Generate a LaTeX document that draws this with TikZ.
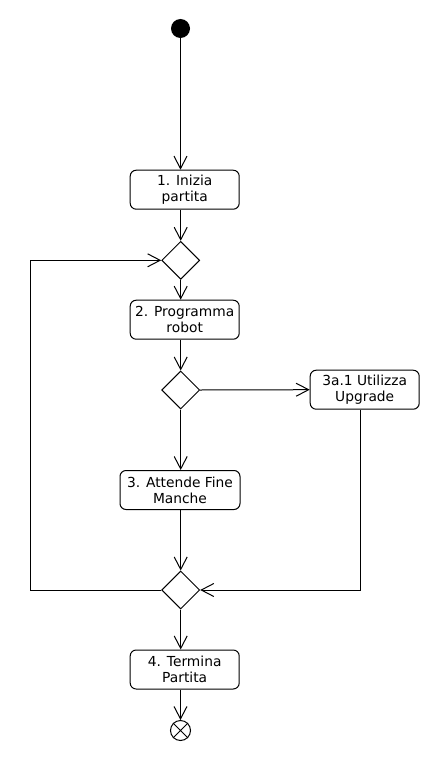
\documentclass[tikz,border=0pt]{standalone}
\usepackage{fontspec}
\setmainfont{DejaVu Sans}
\usetikzlibrary{shapes.geometric,arrows.meta}
\tikzset{
  action/.style={draw,rounded corners=6pt,align=center,inner sep=0pt,minimum height=39pt,minimum width=109pt,font=\fontsize{13.8}{16}\selectfont},
  choice/.style={draw,diamond,inner sep=0pt,minimum width=38pt,minimum height=38pt},
  flow/.style={-{Straight Barb[length=12.5pt,width=13pt]}}
}
\begin{document}
\begin{tikzpicture}[x=1pt,y=-1pt,line width=1pt]
  \useasboundingbox (0,0) rectangle (440,760);
  \node[circle,fill,inner sep=0pt,minimum size=19pt] (start) at (180.5,28.5) {};
  \node[action] (inizia) at (184.7,189.7) {1. Inizia\\partita};
  \node[choice] (merge) at (180.7,260.3) {};
  \node[action] (programma) at (184.7,319.7) {2. Programma\\robot};
  \node[choice] (scelta) at (180.7,390) {};
  \node[action] (utilizza) at (364.7,389.7) {3a.1 Utilizza\\Upgrade};
  \node[action,minimum width=120pt] (attende) at (180,490) {3. Attende Fine\\Manche};
  \node[choice] (fine) at (180.7,590) {};
  \node[action] (termina) at (184.7,669.5) {4. Termina\\Partita};
  \node[circle,draw,inner sep=0pt,minimum size=20pt] (stop) at (180.5,730.5) {};
  \draw (stop.north east) -- (stop.south west) (stop.north west) -- (stop.south east);
  \coordinate (ritorno) at (30.7,425);
  \draw[flow] (start) -- (start |- inizia.north);
  \draw[flow] (inizia.south -| merge) -- (merge.north);
  \draw[flow] (merge.south) -- (merge |- programma.north);
  \draw[flow] (programma.south -| scelta) -- (scelta.north);
  \draw[flow] (scelta.east) -- (utilizza.west);
  \draw[flow] (scelta.south) -- (scelta |- attende.north);
  \draw[flow] (attende.south -| fine) -- (fine.north);
  \draw[flow] ([xshift=-4pt]utilizza.south) |- (fine.east);
  \draw[flow] (fine.west) -| (ritorno) |- (merge.west);
  \draw[flow] (fine.south) -- (fine |- termina.north);
  \draw[flow] (termina.south -| stop) -- (stop.north);
\end{tikzpicture}
\end{document}
